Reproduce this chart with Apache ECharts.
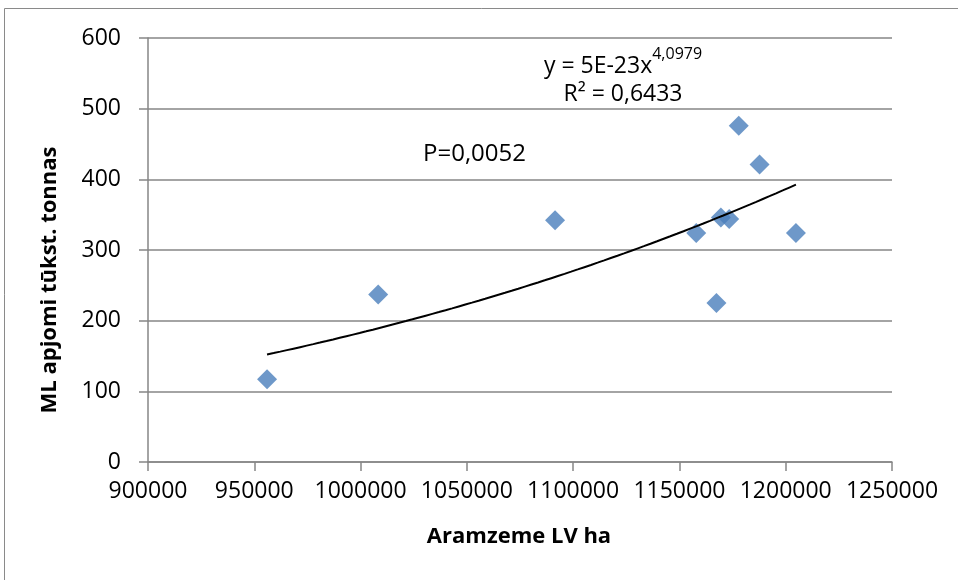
<!DOCTYPE html>
<html>
<head>
<meta charset="utf-8">
<script src="https://cdn.jsdelivr.net/npm/echarts@6/dist/echarts.min.js"></script>
<style>
html,body{margin:0;padding:0;background:#fff;}
#c{width:958px;height:580px;}
</style>
</head>
<body>
<div id="c"></div>
<script>
// Data
var xValues = [956000, 1008300, 1091500, 1157900, 1167400, 1169500, 1173400, 1177900, 1187700, 1204800];
var yValues = [117, 237, 342, 324, 225, 346, 344, 476, 421, 324];
// Power trendline y = a * x^b (Excel shows a rounded to 5E-23)
var trendA = 4.73e-23;
var trendB = 4.0979;
var xTicks = {min: 900000, max: 1250000, interval: 50000};
var yTicks = {min: 0, max: 600, interval: 100};
var xTitle = 'Aramzeme LV ha';
var yTitle = 'ML apjomi tūkst. tonnas';
var pText = 'P=0,0052';
var eqMain = 'y = 5E-23x';
var eqSup = '4,0979';
var r2Text = 'R² = 0,6433';

var FONT = '"Open Sans", "Noto Sans", sans-serif';
var points = xValues.map(function (x, i) { return [x, yValues[i]]; });
var xMinD = Math.min.apply(null, xValues), xMaxD = Math.max.apply(null, xValues);
var trend = [];
var N = 80;
for (var i = 0; i <= N; i++) {
  var x = xMinD + (xMaxD - xMinD) * i / N;
  trend.push([x, trendA * Math.pow(x, trendB)]);
}

var axisGray = '#868686';
var chart = echarts.init(document.getElementById('c'), null, {renderer: 'canvas'});
chart.setOption({
  animation: false,
  backgroundColor: '#fff',
  grid: {left: 148, right: 66, top: 38, bottom: 118, containLabel: false, outerBoundsMode: 'none'},
  xAxis: {
    type: 'value', min: xTicks.min, max: xTicks.max, interval: xTicks.interval,
    axisLine: {show: true, lineStyle: {color: axisGray, width: 1.5}},
    axisTick: {show: true, inside: false, length: 9, lineStyle: {color: axisGray, width: 1.5}},
    axisLabel: {show: true, margin: 18, color: '#000', fontSize: 23, fontFamily: FONT,
      showMinLabel: true, showMaxLabel: true, hideOverlap: false,
      formatter: function (v) { return String(Math.round(v)); }},
    splitLine: {show: false}
  },
  yAxis: {
    type: 'value', min: yTicks.min, max: yTicks.max, interval: yTicks.interval,
    axisLine: {show: true, lineStyle: {color: axisGray, width: 1.5}},
    axisTick: {show: true, inside: false, length: 9, lineStyle: {color: axisGray, width: 1.5}},
    axisLabel: {show: true, margin: 27, color: '#000', fontSize: 23, fontFamily: FONT,
      formatter: function (v) { return String(Math.round(v)); }},
    splitLine: {show: true, lineStyle: {color: axisGray, width: 1.5}}
  },
  series: [
    {
      type: 'scatter', data: points, symbol: 'diamond', symbolSize: 20,
      itemStyle: {color: '#4A7EBB'}, z: 3
    },
    {
      type: 'line', data: trend, showSymbol: false, symbol: 'none', smooth: false,
      lineStyle: {color: '#000', width: 2}, z: 4, silent: true
    }
  ],
  graphic: [
    {type: 'rect', shape: {x: 4.5, y: 8.5, width: 1200, height: 1000},
      style: {fill: 'none', stroke: '#8a8a8a', lineWidth: 1}, z: 100, silent: true},
    {type: 'text', x: 50, y: 280, rotation: Math.PI / 2,
      style: {text: yTitle, font: 'bold 22px ' + FONT, fill: '#000',
        align: 'center', verticalAlign: 'middle', textAlign: 'center', textVerticalAlign: 'middle'}},
    {type: 'text', x: 519, y: 537,
      style: {text: xTitle, font: 'bold 22px ' + FONT, fill: '#000',
        align: 'center', verticalAlign: 'middle', textAlign: 'center', textVerticalAlign: 'middle'}},
    {type: 'text', x: 423, y: 154,
      style: {text: pText, font: '24px ' + FONT, fill: '#000',
        align: 'left', verticalAlign: 'middle', textAlign: 'left', textVerticalAlign: 'middle'}},
    {type: 'text', x: 623, y: 62,
      style: {text: '{m|' + eqMain + '}{s|' + eqSup + '}', fill: '#000',
        align: 'center', verticalAlign: 'middle', textAlign: 'center', textVerticalAlign: 'middle',
        rich: {
          m: {fontSize: 23, fontFamily: FONT, color: '#000', lineHeight: 32, verticalAlign: 'bottom'},
          s: {fontSize: 16, fontFamily: FONT, color: '#000', lineHeight: 20, verticalAlign: 'top'}
        }}},
    {type: 'text', x: 623, y: 94,
      style: {text: r2Text, font: '23px ' + FONT, fill: '#000',
        align: 'center', verticalAlign: 'middle', textAlign: 'center', textVerticalAlign: 'middle'}}
  ]
});
</script>
</body>
</html>
